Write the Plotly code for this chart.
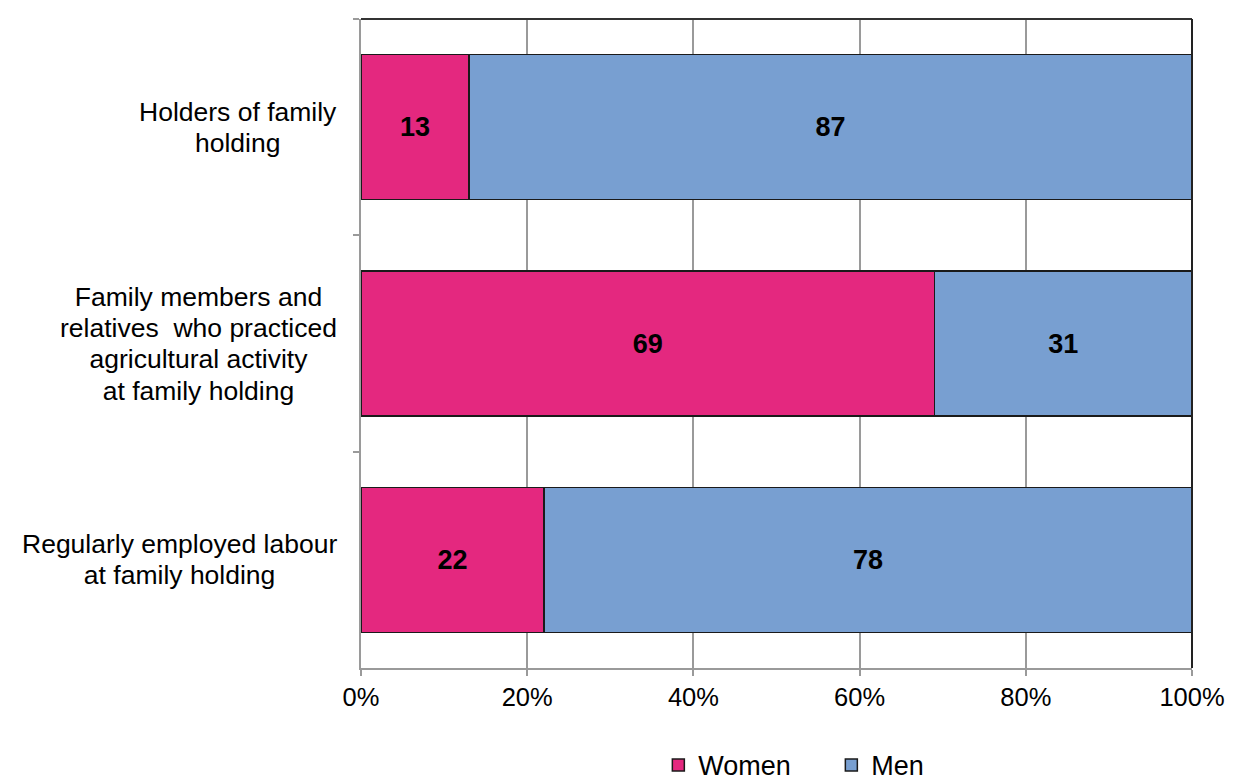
import plotly.graph_objects as go

categories = [
    "Holders of family<br>holding",
    "Family members and<br>relatives  who practiced<br>agricultural activity<br>at family holding",
    "Regularly employed labour<br>at family holding",
]
women = [13, 69, 22]
men = [87, 31, 78]
tick_vals = [0, 20, 40, 60, 80, 100]
tick_text = ["0%", "20%", "40%", "60%", "80%", "100%"]

FONT = "Liberation Sans, Arial, sans-serif"
women_color = "#E4287F"
men_color = "#789FD1"

fig = go.Figure()
fig.add_trace(go.Bar(
    y=categories, x=women, name="Women", orientation="h",
    marker=dict(color=women_color, line=dict(color="#1a1a1a", width=1.5)),
    text=women, textposition="inside", insidetextanchor="middle",
    textfont=dict(family=FONT, size=27, color="black", weight="bold"),
))
fig.add_trace(go.Bar(
    y=categories, x=men, name="Men", orientation="h",
    marker=dict(color=men_color, line=dict(color="#1a1a1a", width=1.5)),
    text=men, textposition="inside", insidetextanchor="middle",
    textfont=dict(family=FONT, size=27, color="black", weight="bold"),
))

for cat in categories:
    styled = "<br>".join(
        '<span style="font-size:26.5px">' + part + "</span>" for part in cat.split("<br>")
    )
    fig.add_annotation(
        x=0, xref="paper", y=cat, yref="y", text=styled, showarrow=False,
        xanchor="right", align="center", xshift=-22,
        font=dict(family=FONT, size=24, color="black"),
    )

# page body has an 8px margin, so the figure is offset by 8px
fig.update_layout(
    barmode="stack",
    bargap=0.33,
    width=1225, height=775,
    margin=dict(l=353, r=41, t=11, b=115, autoexpand=False),
    paper_bgcolor="white", plot_bgcolor="white",
    font=dict(family=FONT, size=25, color="black"),
    showlegend=True,
    legend=dict(
        orientation="h", x=0.566, xanchor="center", y=-0.150, yanchor="middle",
        font=dict(family=FONT, size=27, color="black"),
        traceorder="normal", itemwidth=30,
        entrywidth=128, entrywidthmode="pixels",
    ),
    xaxis=dict(
        range=[0, 100], tickvals=tick_vals, ticktext=tick_text,
        showgrid=True, gridcolor="#9a9a9a", gridwidth=1.5,
        showline=True, linecolor="#9a9a9a", linewidth=1.5,
        ticks="outside", ticklen=6, tickcolor="#9a9a9a", tickwidth=1.5,
        tickfont=dict(family=FONT, size=25.5, color="black"),
        zeroline=False, fixedrange=True, automargin=False,
    ),
    yaxis=dict(
        autorange="reversed",
        showticklabels=False,
        showline=True, linecolor="#9a9a9a", linewidth=1.5,
        ticks="outside", tickson="boundaries", ticklen=6, tickcolor="#9a9a9a", tickwidth=1.5,
        showgrid=False, zeroline=False, automargin=False,
    ),
)

# top and right border of plot area
fig.add_shape(type="line", xref="x domain", yref="y domain", x0=0, x1=1, y0=1, y1=1,
              line=dict(color="#333333", width=2))
fig.add_shape(type="line", xref="x domain", yref="y domain", x0=1, x1=1, y0=0, y1=1,
              line=dict(color="#222222", width=2))

fig.write_html("out.html")
